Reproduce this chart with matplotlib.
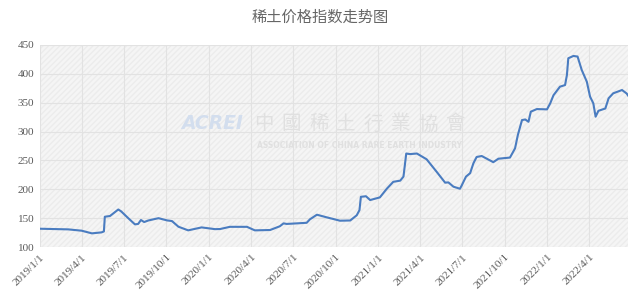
import numpy as np
import pandas as pd
import matplotlib
matplotlib.use('Agg')
import matplotlib.pyplot as plt
from matplotlib.patches import Rectangle

# rare earth price index
dates = [
    '2019-01-01', '2019-03-03', '2019-04-01', '2019-04-23', '2019-05-14', '2019-05-19',
    '2019-05-21', '2019-06-01', '2019-06-19', '2019-06-25', '2019-07-11', '2019-07-25',
    '2019-08-01', '2019-08-07', '2019-08-14', '2019-08-23', '2019-09-14', '2019-10-02',
    '2019-10-13', '2019-10-27', '2019-11-17', '2019-12-16', '2020-01-14', '2020-01-25',
    '2020-02-15', '2020-03-23', '2020-04-09', '2020-05-12', '2020-06-02', '2020-06-10',
    '2020-06-17', '2020-07-30', '2020-08-06', '2020-08-21', '2020-09-11', '2020-10-10',
    '2020-11-01', '2020-11-15', '2020-11-21', '2020-11-24', '2020-12-05', '2020-12-14',
    '2021-01-04', '2021-01-19', '2021-02-02', '2021-02-17', '2021-02-24', '2021-03-02',
    '2021-03-10', '2021-03-25', '2021-04-15', '2021-05-07', '2021-05-25', '2021-06-01',
    '2021-06-12', '2021-06-26', '2021-06-30', '2021-07-09', '2021-07-18', '2021-07-25',
    '2021-08-01', '2021-08-12', '2021-09-06', '2021-09-17', '2021-10-12', '2021-10-23',
    '2021-10-29', '2021-11-07', '2021-11-14', '2021-11-21', '2021-11-26', '2021-12-09',
    '2021-12-31', '2022-01-07', '2022-01-14', '2022-01-28', '2022-02-08', '2022-02-12',
    '2022-02-15', '2022-02-26', '2022-03-07', '2022-03-16', '2022-03-27', '2022-04-03',
    '2022-04-10', '2022-04-15', '2022-04-21', '2022-05-06', '2022-05-13', '2022-05-23',
    '2022-06-11', '2022-06-21', '2022-06-25',
]
index_values = [
    131.7, 130.6, 128.3, 123.7, 125.4, 127.0,
    152.5, 153.7, 165.0, 162.0, 149.7, 139.3,
    140.0, 146.8, 143.3, 146.0, 150.0, 146.2,
    145.0, 135.2, 128.9, 134.0, 131.0, 131.2,
    135.0, 135.0, 128.9, 129.5, 136.0, 141.0,
    140.0, 142.0, 148.0, 156.0, 151.5, 145.6,
    146.0, 155.0, 164.0, 187.0, 188.0, 181.4,
    186.0, 201.0, 213.0, 215.0, 222.0, 262.0,
    261.0, 262.0, 252.0, 230.0, 211.5, 212.0,
    204.5, 201.0, 207.0, 222.0, 228.0, 245.0,
    256.0, 257.7, 247.0, 253.0, 255.0, 271.0,
    294.0, 320.0, 321.0, 317.0, 334.5, 339.0,
    338.5, 349.0, 363.0, 377.8, 380.6, 398.0,
    427.0, 431.0, 430.0, 406.7, 386.4, 360.5,
    349.0, 325.8, 336.0, 340.0, 357.6, 366.3,
    372.0, 366.0, 361.5,
]
tick_dates = ['2019-01-01', '2019-04-01', '2019-07-01', '2019-10-01',
              '2020-01-01', '2020-04-01', '2020-07-01', '2020-10-01',
              '2021-01-01', '2021-04-01', '2021-07-01', '2021-10-01',
              '2022-01-01', '2022-04-01']
tick_labels = ['2019/1/1', '2019/4/1', '2019/7/1', '2019/10/1',
               '2020/1/1', '2020/4/1', '2020/7/1', '2020/10/1',
               '2021/1/1', '2021/4/1', '2021/7/1', '2021/10/1',
               '2022/1/1', '2022/4/1']
y_ticks = [100, 150, 200, 250, 300, 350, 400, 450]

x = pd.to_datetime(dates)
xt = pd.to_datetime(tick_dates)

fig = plt.figure(figsize=(6.4, 3.02), dpi=100)
ax = fig.add_axes([0.0625, 0.182, 0.9188, 0.669])

ax.set_facecolor('#f5f5f5')
# faint diagonal hatching like the original background
ax.add_patch(Rectangle((0, 0), 1, 1, transform=ax.transAxes, facecolor='none',
                       edgecolor='#ececec', hatch='//////', linewidth=0, zorder=0))

ax.plot(x, index_values, color='#4a7cc0', linewidth=1.5, zorder=3)

ax.set_xlim(pd.Timestamp('2019-01-01'), pd.Timestamp('2022-06-24'))
ax.set_ylim(100, 450)
ax.set_yticks(y_ticks)
ax.set_xticks(xt)
ax.set_xticklabels(tick_labels, rotation=45, ha='right', va='top',
                   rotation_mode='anchor')
ax.grid(True, color='#e2e2e2', linewidth=0.8, zorder=1)
ax.set_axisbelow(True)
for s in ax.spines.values():
    s.set_visible(False)
ax.tick_params(length=0, labelcolor='#595959', labelsize=8, pad=4)
for lab in ax.get_xticklabels() + ax.get_yticklabels():
    lab.set_fontfamily('Liberation Serif')

# watermark
ax.text(0.293, 0.609, 'ACREI', transform=ax.transAxes, fontsize=13.5, fontweight='bold',
        style='italic', color='#d3deee', ha='center', va='center', family='DejaVu Sans',
        zorder=2)
for i, ch in enumerate('中國稀土行業協會'):
    ax.text(0.381 + i * 0.0465, 0.609, ch, transform=ax.transAxes, fontsize=14,
            color='#e0e0e0', ha='center', va='center', family='Noto Sans CJK TC',
            zorder=2)
ax.text(0.544, 0.505, 'ASSOCIATION OF CHINA RARE EARTH INDUSTRY', transform=ax.transAxes,
        fontsize=5.5, color='#e0e0e0', ha='center', va='center', fontweight='bold',
        family='DejaVu Sans', zorder=2)

fig.text(0.5, 0.944, '稀土价格指数走势图', ha='center', va='center', fontsize=11,
         color='#666666', family=['Noto Sans CJK SC', 'DejaVu Sans'])

fig.savefig('out.png', dpi=100, facecolor='white')
